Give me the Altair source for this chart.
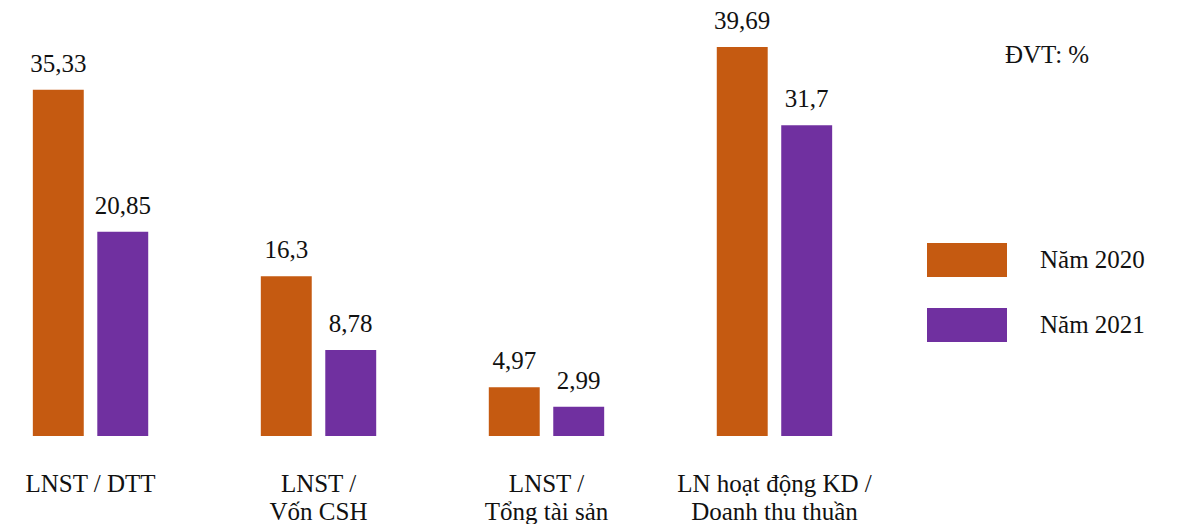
import altair as alt
import pandas as pd

categories = ["LNST / DTT", "LNST /\nVốn CSH", "LNST /\nTổng tài sản", "LN hoạt động KD /\nDoanh thu thuần"]
series = ["Năm 2020", "Năm 2021"]
values_2020 = [35.33, 16.3, 4.97, 39.69]
values_2021 = [20.85, 8.78, 2.99, 31.7]
colors = ["#C55A11", "#7030A0"]
unit_note = "ĐVT: %"

rows = []
for i, c in enumerate(categories):
    rows.append({"cat": c, "series": series[0], "value": values_2020[i], "order": i})
    rows.append({"cat": c, "series": series[1], "value": values_2021[i], "order": i})
df = pd.DataFrame(rows)

FONT = "Liberation Serif"

x_enc = alt.X("cat:N", sort=categories,
              scale=alt.Scale(paddingInner=0.43, paddingOuter=0.077),
              axis=alt.Axis(title=None, domain=False, ticks=False, labelAngle=0,
                            labelExpr="split(datum.label, '\\n')", labelLimit=0,
                            labelFont=FONT, labelFontSize=25, labelColor="#111111",
                            labelPadding=47, labelLineHeight=28, labelBaseline="middle"))
xoff = alt.XOffset("series:N", sort=series,
                   scale=alt.Scale(paddingInner=0.21, paddingOuter=0.113))
y_enc = alt.Y("value:Q", scale=alt.Scale(domain=[0, 40], nice=False), axis=None)

base = alt.Chart(df)

bars = base.mark_bar().encode(
    x=x_enc, xOffset=xoff, y=y_enc,
    color=alt.Color("series:N", sort=series,
                    scale=alt.Scale(domain=series, range=colors),
                    legend=alt.Legend(title=None, orient="none", legendX=919, legendY=176,
                                      symbolType="M-1,-0.425H1V0.425H-1Z", symbolSize=6400,
                                      symbolStrokeWidth=0, symbolOpacity=1,
                                      labelFont=FONT, labelFontSize=25, labelColor="#111111",
                                      labelOffset=33, rowPadding=8, padding=0)),
)

labels = base.transform_calculate(
    lab="replace(toString(datum.value), '.', ',')"
).mark_text(font=FONT, fontSize=25, color="#111111", baseline="middle", dy=-26).encode(
    x=alt.X("cat:N", sort=categories), xOffset=alt.XOffset("series:N", sort=series),
    y="value:Q", text="lab:N",
)

note = alt.Chart(pd.DataFrame({"t": [unit_note]})).mark_text(
    font=FONT, fontSize=25, color="#111111", align="left", baseline="middle"
).encode(x=alt.value(997), y=alt.value(11), text="t:N")

chart = alt.layer(bars, labels, note).properties(
    width=849, height=392,
    padding={"left": 0, "top": 36, "right": 321, "bottom": 88},
    autosize=alt.AutoSizeParams(type="none"),
).configure(background="white").configure_view(stroke=None, strokeWidth=0)

chart.save("out.html", embed_options={"renderer": "svg", "actions": False})
